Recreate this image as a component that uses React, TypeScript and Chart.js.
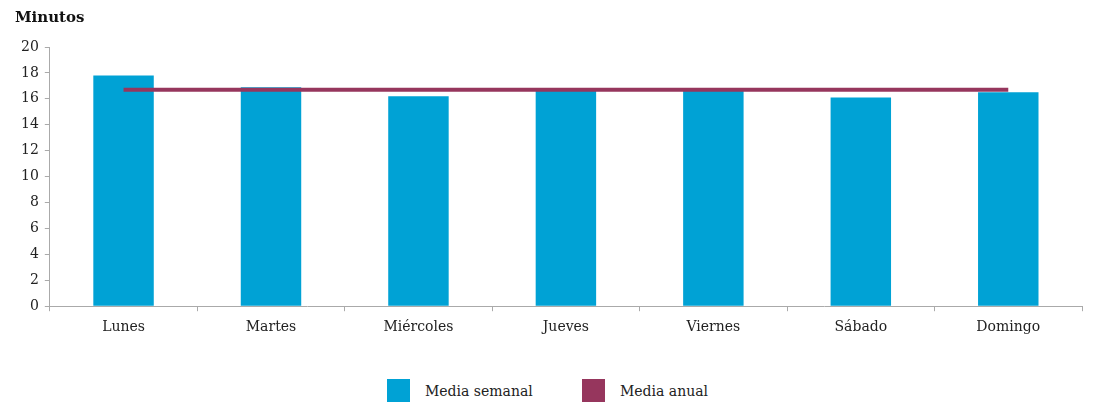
import React, { useEffect, useRef } from "react";
import { Chart, registerables } from "chart.js";

Chart.register(...registerables);

const categories = ["Lunes", "Martes", "Miércoles", "Jueves", "Viernes", "Sábado", "Domingo"];
const mediaSemanal = [17.8, 16.9, 16.2, 16.6, 16.6, 16.1, 16.5];
const mediaAnual = [16.7, 16.7, 16.7, 16.7, 16.7, 16.7, 16.7];
const yTitle = "Minutos";
const seriesNames = ["Media semanal", "Media anual"];
const seriesColors = ["#00A2D5", "#96365D"];

const FONT = "'DejaVu Serif', Georgia, serif";

export default function App() {
  const ref = useRef<HTMLCanvasElement | null>(null);
  useEffect(() => {
    document.body.style.margin = "0";
    const ctx = ref.current!;
    const chart = new Chart(ctx, {
      type: "bar",
      data: {
        labels: categories,
        datasets: [
          {
            type: "bar",
            label: seriesNames[0],
            data: mediaSemanal,
            backgroundColor: seriesColors[0],
            borderWidth: 0,
            barPercentage: 0.41,
            categoryPercentage: 1,
            order: 2,
          },
          {
            type: "line",
            label: seriesNames[1],
            data: mediaAnual,
            borderColor: seriesColors[1],
            backgroundColor: seriesColors[1],
            borderWidth: 4,
            pointRadius: 0,
            order: 1,
          } as any,
        ],
      },
      options: {
        animation: false,
        responsive: false,
        maintainAspectRatio: false,
        layout: { padding: { left: 15, right: 15, top: 9, bottom: 6 } },
        plugins: {
          title: {
            display: true,
            text: yTitle,
            align: "start",
            color: "#111",
            font: { family: FONT, size: 15, weight: "bold" },
            padding: { top: 0, bottom: 20 },
          },
          legend: { display: false },
          tooltip: { enabled: false },
        },
        scales: {
          x: {
            offset: true,
            grid: {
              offset: true,
              drawOnChartArea: false,
              drawTicks: true,
              tickLength: 5,
              color: "#aaa",
            },
            border: { color: "#aaa" },
            ticks: { color: "#222", font: { family: FONT, size: 14 }, padding: 8 },
          },
          y: {
            min: 0,
            max: 20,
            ticks: { stepSize: 2, color: "#222", font: { family: FONT, size: 14 }, padding: 6 },
            grid: {
              drawOnChartArea: false,
              drawTicks: true,
              tickLength: 5,
              color: "#aaa",
            },
            border: { color: "#aaa" },
          },
        },
      },
    });
    return () => chart.destroy();
  }, []);
  const legendItem = (i: number, left: number) => (
    <div key={i} style={{ position: "absolute", left, top: 379, height: 23, display: "flex", alignItems: "center" }}>
      <div style={{ width: 23, height: 23, background: seriesColors[i] }} />
      <span style={{ marginLeft: 15, fontFamily: FONT, fontSize: 14, color: "#222" }}>{seriesNames[i]}</span>
    </div>
  );
  return (
    <div style={{ position: "absolute", left: 0, top: 0, width: 1097, height: 405 }}>
      <canvas ref={ref} width={1097} height={350} style={{ width: 1097, height: 350, display: "block" }} />
      {legendItem(0, 387)}
      {legendItem(1, 582)}
    </div>
  );
}
